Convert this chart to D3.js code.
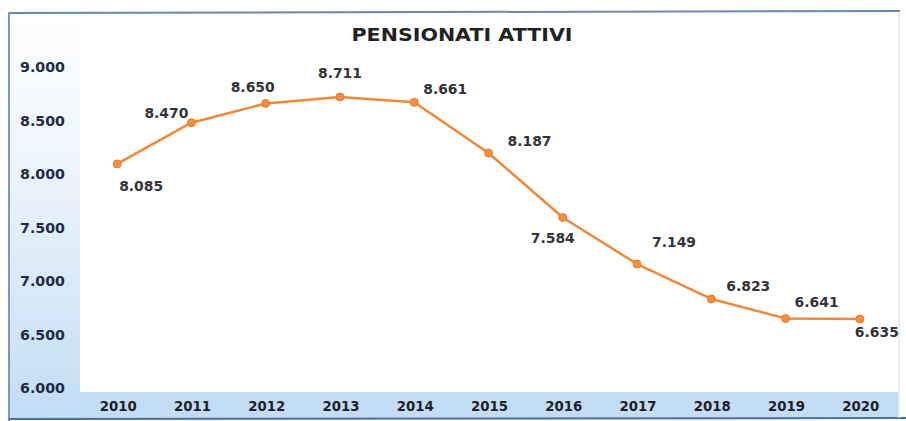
<!DOCTYPE html>
<html><head><meta charset="utf-8">
<script src="https://cdn.jsdelivr.net/npm/d3@7"></script>
<style>html,body{margin:0;padding:0;background:#fff}svg{display:block}</style>
</head><body>
<svg id="chart" width="906" height="421"></svg>
<script>
const title = "PENSIONATI ATTIVI";
const years = ["2010","2011","2012","2013","2014","2015","2016","2017","2018","2019","2020"];
const values = [8085, 8470, 8650, 8711, 8661, 8187, 7584, 7149, 6823, 6641, 6635];
const yTicks = [6000, 6500, 7000, 7500, 8000, 8500, 9000];
// label placement offsets relative to each point (layout only)
const labelDx = [24, -25, -13, 0, 31, 41, -10, 37, 37, 31, 17];
const labelDy = [22, -10, -16, -24, -13, -12, 20, -22, -13, -16, 13];

const svg = d3.select("#chart");
const fmt = v => d3.format(",")(v).replace(/,/g, ".");

const plotL = 80, plotR = 897, plotT = 13, plotB = 392;
const x = d3.scaleBand().domain(years).range([plotL, plotR]);
const y = d3.scaleLinear().domain([6000, 9000]).range([387, 66]);

const defs = svg.append("defs");
const g1 = defs.append("linearGradient").attr("id","lg").attr("x1",0).attr("y1",0).attr("x2",0).attr("y2",1);
g1.append("stop").attr("offset","0%").attr("stop-color","#ffffff");
g1.append("stop").attr("offset","35%").attr("stop-color","#eef5fc");
g1.append("stop").attr("offset","100%").attr("stop-color","#c3ddf4");

// frame backgrounds
svg.append("rect").attr("x",9).attr("y",13).attr("width",plotL-9).attr("height",418-13).attr("fill","url(#lg)");
svg.append("rect").attr("x",plotL).attr("y",plotB).attr("width",898-plotL).attr("height",418-plotB).attr("fill","#c2ddf5");
svg.append("rect").attr("x",plotL).attr("y",plotT).attr("width",plotR-plotL).attr("height",plotB-plotT).attr("fill","#ffffff");
// frame lines
svg.append("line").attr("x1",8).attr("x2",900).attr("y1",13).attr("y2",11).attr("stroke","#6d87b2").attr("stroke-width",2);
svg.append("line").attr("x1",9).attr("x2",9).attr("y1",12).attr("y2",421).attr("stroke","#7d97c2").attr("stroke-width",2);
svg.append("line").attr("x1",9).attr("x2",906).attr("y1",419).attr("y2",418).attr("stroke","#4e6c9c").attr("stroke-width",2);
svg.append("line").attr("x1",899).attr("x2",899).attr("y1",12).attr("y2",418).attr("stroke","#dfe8f2").attr("stroke-width",1.5);

// title
svg.append("text").attr("x",462).attr("y",41).attr("text-anchor","middle")
  .attr("font-family","DejaVu Sans").attr("font-weight","bold").attr("font-size",17)
  .attr("fill","#222").attr("textLength",221).attr("lengthAdjust","spacingAndGlyphs").text(title);

// y axis
const yAxis = d3.axisLeft(y).tickValues(yTicks).tickFormat(fmt).tickSize(0).tickPadding(0);
const ya = svg.append("g").attr("transform","translate(65,1)").call(yAxis);
ya.select(".domain").remove();
ya.selectAll("text").attr("font-family","DejaVu Sans").attr("font-weight","bold").attr("font-size",14.5)
  .attr("fill","#1f2a4a").attr("textLength",45).attr("lengthAdjust","spacingAndGlyphs");

// x axis
const xAxis = d3.axisBottom(x).tickSize(0).tickPadding(0);
const xa = svg.append("g").attr("transform","translate(1,401)").call(xAxis);
xa.select(".domain").remove();
xa.selectAll("text").attr("font-family","DejaVu Sans").attr("font-weight","bold").attr("font-size",14)
  .attr("fill","#1e1e2a").attr("textLength",37).attr("lengthAdjust","spacingAndGlyphs");

const cx = d => x(d) + x.bandwidth()/2;

// line
const line = d3.line().x((d,i)=>cx(years[i])).y(d=>y(d));
svg.append("path").datum(values).attr("d",line).attr("fill","none")
  .attr("stroke","#f0873a").attr("stroke-width",2.5).attr("stroke-linejoin","round");

svg.selectAll("circle.pt").data(values).enter().append("circle").attr("class","pt")
  .attr("cx",(d,i)=>cx(years[i])).attr("cy",d=>y(d)).attr("r",4)
  .attr("fill","#f39244").attr("stroke","#e9782a").attr("stroke-width",1);

// data labels
svg.selectAll("text.lbl").data(values).enter().append("text").attr("class","lbl")
  .attr("x",(d,i)=>cx(years[i]) + labelDx[i]).attr("y",(d,i)=>y(d) + labelDy[i])
  .attr("text-anchor","middle").attr("dominant-baseline","central")
  .attr("font-family","DejaVu Sans").attr("font-weight","bold").attr("font-size",14)
  .attr("fill","#333338").attr("textLength",44).attr("lengthAdjust","spacingAndGlyphs")
  .text(d=>fmt(d));
</script>
</body></html>
